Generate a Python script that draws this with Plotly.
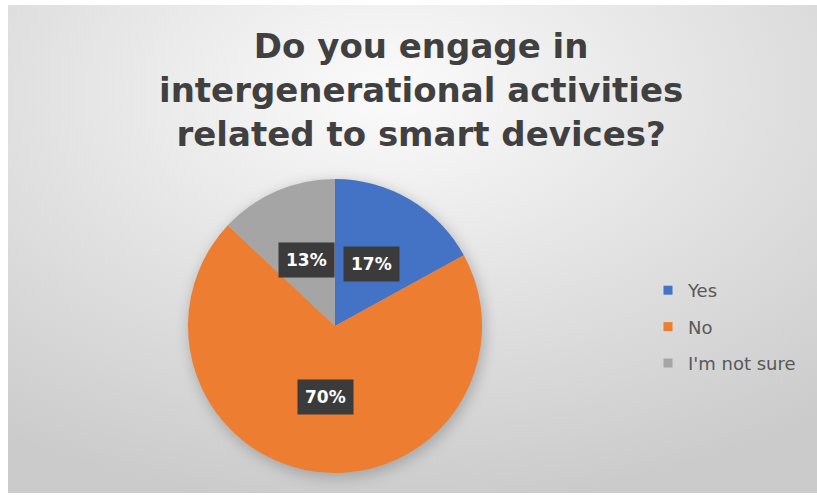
import math
import urllib.parse
import plotly.graph_objects as go

categories = ["Yes", "No", "I'm not sure"]
values = [17, 70, 13]
colors = ["#4472C4", "#ED7D31", "#A5A5A5"]
title_lines = ["Do you engage in", "intergenerational activities", "related to smart devices?"]

W, H = 817, 495
cx_px, cy_px, r_px = 335, 326, 147
dom_x = [(cx_px - r_px) / W, (cx_px + r_px) / W]
dom_y = [1 - (cy_px + r_px) / H, 1 - (cy_px - r_px) / H]

fig = go.Figure()
fig.add_trace(go.Pie(
    labels=categories, values=values, sort=False, direction="clockwise", rotation=0,
    marker=dict(colors=colors, line=dict(width=0)),
    textinfo="none", hoverinfo="label+percent", showlegend=False,
    domain=dict(x=dom_x, y=dom_y),
))

# legend via dummy traces
for c, col in zip(categories, colors):
    fig.add_trace(go.Scatter(x=[None], y=[None], mode="markers", name=c,
                             marker=dict(symbol="square", size=9, color=col),
                             legendgroup=c, showlegend=True))

# percentage labels computed from data
total = sum(values)
cum = 0
for v in values:
    mid = (cum + v / 2) / total * 2 * math.pi
    cum += v
    rr = 0.49 * r_px
    px = cx_px + rr * math.sin(mid)
    py = cy_px - rr * math.cos(mid)
    fig.add_annotation(x=px / W, y=1 - py / H, xref="paper", yref="paper",
                       xanchor="center", yanchor="middle",
                       text=f"<b>{round(v / total * 100)}%</b>", showarrow=False,
                       font=dict(family="DejaVu Sans", size=17, color="white"),
                       bgcolor="#3b3b3b", borderpad=7)

fig.add_annotation(x=421 / W, y=1 - 90 / H, xref="paper", yref="paper",
                   text="<b>" + "<br>".join(title_lines) + "</b>", showarrow=False,
                   font=dict(family="DejaVu Sans", size=34, color="#404040"),
                   xanchor="center", yanchor="middle")

bx, by = 8, 5
svg = ('<svg xmlns="http://www.w3.org/2000/svg" width="809" height="488" preserveAspectRatio="none">'
       '<defs><radialGradient id="g" cx="0.47" cy="0.18" r="0.85" fx="0.47" fy="0.18">'
       '<stop offset="0" stop-color="#fbfbfb"/><stop offset="0.55" stop-color="#e0e0e0"/>'
       '<stop offset="1" stop-color="#cbcbcb"/></radialGradient>'
       '<filter id="b" x="-20%" y="-20%" width="140%" height="140%"><feGaussianBlur stdDeviation="7"/></filter></defs>'
       '<rect width="809" height="488" fill="url(#g)"/>'
       f'<circle cx="{cx_px - bx + 2}" cy="{cy_px - by + 4}" r="{r_px + 1}" fill="#555" opacity="0.35" filter="url(#b)"/>'
       '</svg>')
src = "data:image/svg+xml;charset=utf-8," + urllib.parse.quote(svg)
fig.add_layout_image(source=src, xref="paper", yref="paper", x=bx / W, y=1 - by / H,
                     sizex=(W - bx) / W, sizey=(H - by - 2) / H, sizing="stretch",
                     xanchor="left", yanchor="top", layer="below")

fig.update_layout(
    width=W, height=H, margin=dict(l=0, r=0, t=0, b=0, autoexpand=False),
    paper_bgcolor="white", plot_bgcolor="rgba(0,0,0,0)",
    xaxis=dict(visible=False), yaxis=dict(visible=False),
    legend=dict(x=648 / W, y=1 - 272 / H, xanchor="left", yanchor="top",
                font=dict(family="DejaVu Sans", size=18, color="#595959"),
                tracegroupgap=10, itemwidth=30, bgcolor="rgba(0,0,0,0)"),
)
fig.write_html("out.html", config={"displayModeBar": False},
               post_script="document.body.style.margin='0px';")
